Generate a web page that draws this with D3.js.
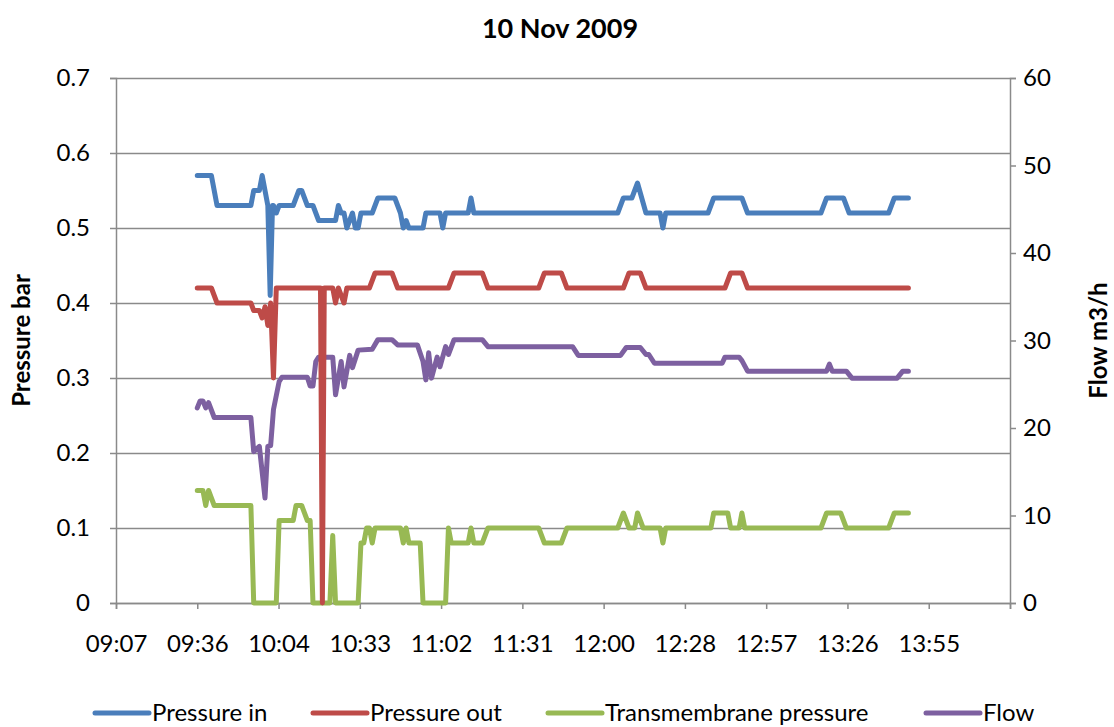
<!DOCTYPE html>
<html>
<head>
<meta charset="utf-8">
<script src="https://cdn.jsdelivr.net/npm/d3@7"></script>
<style>
  body { margin: 0; background: #fff; }
  svg text { font-family: Lato, "Open Sans", sans-serif; fill: #000; }
</style>
</head>
<body>
<svg id="chart" width="1114" height="727"></svg>
<script>
// ---- chart data ----
const chartTitle = "10 Nov 2009";
const leftAxisTitle = "Pressure bar";
const rightAxisTitle = "Flow m3/h";
const seriesNames = ["Pressure in", "Pressure out", "Transmembrane pressure", "Flow"];
const seriesColors = ["#4A7EBB", "#BE4B48", "#98B954", "#7D60A0"];

const leftTicks = [0, 0.1, 0.2, 0.3, 0.4, 0.5, 0.6, 0.7];
const rightTicks = [0, 10, 20, 30, 40, 50, 60];
// time axis runs in steps of 0.02 day
const xTickTimes = ["09:07:12", "09:36:00", "10:04:48", "10:33:36", "11:02:24", "11:31:12",
                    "12:00:00", "12:28:48", "12:57:36", "13:26:24", "13:55:12", "14:24:00"];
const xTickLabels = ["09:07", "09:36", "10:04", "10:33", "11:02", "11:31",
                     "12:00", "12:28", "12:57", "13:26", "13:55", ""];

// bar
const pressureIn = [
  ["09:36",0.57],["09:41",0.57],["09:43",0.53],["09:55",0.53],["09:56",0.55],["09:58",0.55],
  ["09:59",0.57],["10:01",0.53],["10:01:50",0.41],["10:02:40",0.53],["10:03",0.53],["10:04",0.52],
  ["10:05",0.53],["10:10",0.53],["10:12",0.55],["10:13",0.55],["10:15",0.53],["10:17",0.53],
  ["10:19",0.51],["10:25",0.51],["10:26",0.53],["10:27",0.52],["10:28",0.52],["10:29",0.50],
  ["10:31",0.52],["10:32",0.50],["10:33",0.50],["10:34",0.52],["10:38",0.52],["10:40",0.54],
  ["10:46",0.54],["10:48",0.52],["10:49",0.50],["10:50",0.51],["10:51",0.50],["10:56",0.50],
  ["10:57",0.52],["11:02",0.52],["11:03",0.50],["11:04",0.52],["11:12",0.52],["11:13",0.54],
  ["11:14",0.52],["12:05",0.52],["12:07",0.54],["12:10",0.54],["12:12",0.56],["12:15",0.52],
  ["12:20",0.52],["12:21",0.50],["12:22",0.52],["12:37",0.52],["12:39",0.54],["12:49",0.54],
  ["12:51",0.52],["13:17",0.52],["13:19",0.54],["13:25",0.54],["13:27",0.52],["13:41",0.52],
  ["13:43",0.54],["13:48",0.54]
];

// bar
const pressureOut = [
  ["09:36",0.42],["09:41",0.42],["09:43",0.40],["09:55",0.40],["09:56",0.39],["09:58",0.39],
  ["09:59",0.38],["10:00",0.395],["10:01",0.37],["10:02",0.40],["10:03",0.30],["10:04",0.42],
  ["10:19:40",0.42],["10:20:20",0.00],["10:21:00",0.42],["10:24",0.42],["10:25",0.40],
  ["10:26",0.42],["10:28",0.40],["10:29",0.42],["10:37",0.42],["10:39",0.44],["10:45",0.44],
  ["10:47",0.42],["11:05",0.42],["11:07",0.44],["11:17",0.44],["11:19",0.42],["11:37",0.42],
  ["11:39",0.44],["11:45",0.44],["11:47",0.42],["12:07",0.42],["12:09",0.44],["12:13",0.44],
  ["12:15",0.42],["12:43",0.42],["12:45",0.44],["12:49",0.44],["12:51",0.42],["13:48",0.42]
];

// bar
const transmembrane = [
  ["09:36",0.15],["09:38",0.15],["09:39",0.13],["09:40",0.15],["09:42",0.13],["09:55",0.13],
  ["09:56",0.00],["10:04",0.00],["10:05",0.11],["10:10",0.11],["10:11",0.13],["10:13",0.13],
  ["10:15",0.11],["10:16",0.11],["10:17",0.00],["10:23",0.00],["10:24",0.09],["10:25",0.00],
  ["10:33",0.00],["10:34",0.08],["10:35",0.08],["10:36",0.10],["10:37",0.10],["10:38",0.08],
  ["10:39",0.10],["10:48",0.10],["10:49",0.08],["10:50",0.10],["10:51",0.08],["10:55",0.08],
  ["10:56",0.00],["11:04",0.00],["11:05",0.10],["11:06",0.08],["11:12",0.08],["11:13",0.10],
  ["11:14",0.08],["11:17",0.08],["11:19",0.10],["11:37",0.10],["11:39",0.08],["11:45",0.08],
  ["11:47",0.10],["12:05",0.10],["12:07",0.12],["12:09",0.10],["12:11",0.10],["12:12",0.12],
  ["12:14",0.10],["12:20",0.10],["12:21",0.08],["12:22",0.10],["12:38",0.10],["12:39",0.12],
  ["12:44",0.12],["12:45",0.10],["12:48",0.10],["12:49",0.12],["12:50",0.10],["13:17",0.10],
  ["13:19",0.12],["13:24",0.12],["13:26",0.10],["13:41",0.10],["13:43",0.12],["13:48",0.12]
];

// m3/h
const flow = [
  ["09:36",22.3],["09:37",23.1],["09:38",23.1],["09:39",22.3],["09:40",22.9],["09:42",21.2],
  ["09:55",21.2],["09:56",17.3],["09:58",17.9],["10:00",12.0],["10:01",17.9],["10:02",18.0],
  ["10:03",22.1],["10:05",25.3],["10:06",25.8],["10:15",25.8],["10:16",24.8],["10:17",24.8],
  ["10:18",27.6],["10:19",28.1],["10:24",28.1],["10:25",23.8],["10:27",27.6],["10:28",24.7],
  ["10:30",28.3],["10:31",26.9],["10:33",28.9],["10:38",29.0],["10:40",30.1],["10:45",30.1],
  ["10:47",29.5],["10:54",29.5],["10:56",27.6],["10:57",25.5],["10:58",28.6],["10:59",25.7],
  ["11:01",28.1],["11:02",27.0],["11:04",29.3],["11:05",28.4],["11:07",30.1],["11:17",30.1],
  ["11:19",29.3],["11:49",29.3],["11:51",28.3],["12:06",28.3],["12:08",29.2],["12:13",29.2],
  ["12:15",28.4],["12:16",28.4],["12:18",27.4],["12:42",27.4],["12:43",28.1],["12:48",28.1],
  ["12:49",27.7],["12:51",26.5],["13:19",26.5],["13:20",27.3],["13:21",26.5],["13:26",26.5],
  ["13:28",25.7],["13:44",25.7],["13:46",26.5],["13:48",26.5]
];

// ---- layout ----
const svg = d3.select("#chart");
const plot = { left: 116, right: 1010, top: 78, bottom: 603 };
const gridColor = "#8A8A8A";

const parseTime = s => d3.timeParse(s.length > 5 ? "%H:%M:%S" : "%H:%M")(s);

const x = d3.scaleTime()
  .domain([parseTime(xTickTimes[0]), parseTime(xTickTimes[xTickTimes.length - 1])])
  .range([plot.left, plot.right]);
const yLeft = d3.scaleLinear().domain([0, 0.7]).range([plot.bottom, plot.top]);
const yRight = d3.scaleLinear().domain([0, 60]).range([plot.bottom, plot.top]);

// horizontal gridlines
svg.append("g")
  .attr("transform", `translate(${plot.left},0)`)
  .call(d3.axisLeft(yLeft).tickValues(leftTicks).tickSize(-(plot.right - plot.left)).tickFormat(""))
  .call(g => g.select(".domain").remove())
  .call(g => g.selectAll("line").attr("stroke", gridColor).attr("stroke-width", 1.5));

// left axis
svg.append("g")
  .attr("transform", `translate(${plot.left},0)`)
  .call(d3.axisLeft(yLeft).tickValues(leftTicks).tickSize(6).tickPadding(20)
        .tickFormat(d => d === 0 ? "0" : d3.format(".1f")(d)))
  .call(g => g.select(".domain").attr("stroke", gridColor).attr("stroke-width", 1.5))
  .call(g => g.selectAll("line").attr("stroke", gridColor).attr("stroke-width", 1.5))
  .call(g => g.selectAll("text").attr("font-size", 24).attr("font-family", null));

// right axis
svg.append("g")
  .attr("transform", `translate(${plot.right},0)`)
  .call(d3.axisRight(yRight).tickValues(rightTicks).tickSize(6).tickPadding(7))
  .call(g => g.select(".domain").attr("stroke", gridColor).attr("stroke-width", 1.5))
  .call(g => g.selectAll("line").attr("stroke", gridColor).attr("stroke-width", 1.5))
  .call(g => g.selectAll("text").attr("font-size", 24).attr("font-family", null));

// time axis
svg.append("g")
  .attr("transform", `translate(0,${plot.bottom})`)
  .call(d3.axisBottom(x).tickValues(xTickTimes.map(parseTime)).tickSize(6).tickPadding(26)
        .tickFormat((d, i) => xTickLabels[i]))
  .call(g => g.select(".domain").attr("stroke", gridColor).attr("stroke-width", 1.5))
  .call(g => g.selectAll("line").attr("stroke", gridColor).attr("stroke-width", 1.5))
  .call(g => g.selectAll("text").attr("font-size", 24).attr("font-family", null));

// series lines
const series = [
  { name: seriesNames[3], data: flow, y: yRight, color: seriesColors[3] },
  { name: seriesNames[2], data: transmembrane, y: yLeft, color: seriesColors[2] },
  { name: seriesNames[0], data: pressureIn, y: yLeft, color: seriesColors[0] },
  { name: seriesNames[1], data: pressureOut, y: yLeft, color: seriesColors[1] }
];

series.forEach(s => {
  const line = d3.line()
    .x(d => x(parseTime(d[0])))
    .y(d => s.y(d[1]));
  svg.append("path")
    .datum(s.data)
    .attr("d", line)
    .attr("fill", "none")
    .attr("stroke", s.color)
    .attr("stroke-width", 5)
    .attr("stroke-linejoin", "round")
    .attr("stroke-linecap", "round");
});

// titles
svg.append("text")
  .attr("x", 560).attr("y", 38)
  .attr("text-anchor", "middle")
  .attr("font-size", 27).attr("font-weight", "bold")
  .text(chartTitle);

svg.append("text")
  .attr("transform", `translate(30,${(plot.top + plot.bottom) / 2}) rotate(-90)`)
  .attr("text-anchor", "middle")
  .attr("font-size", 24).attr("font-weight", "bold")
  .text(leftAxisTitle);

svg.append("text")
  .attr("transform", `translate(1107,${(plot.top + plot.bottom) / 2}) rotate(-90)`)
  .attr("text-anchor", "middle")
  .attr("font-size", 24).attr("font-weight", "bold")
  .text(rightAxisTitle);

// legend
const legendX = [95, 313, 548, 926];
const legendY = 713;
const legend = svg.append("g");
seriesNames.forEach((name, i) => {
  const g = legend.append("g").attr("transform", `translate(${legendX[i]},${legendY})`);
  g.append("line")
    .attr("x1", 0).attr("x2", 54).attr("y1", 0).attr("y2", 0)
    .attr("stroke", seriesColors[i]).attr("stroke-width", 5).attr("stroke-linecap", "round");
  g.append("text")
    .attr("x", 57).attr("y", 0).attr("dy", "0.35em")
    .attr("font-size", 24)
    .text(name);
});
</script>
</body>
</html>
